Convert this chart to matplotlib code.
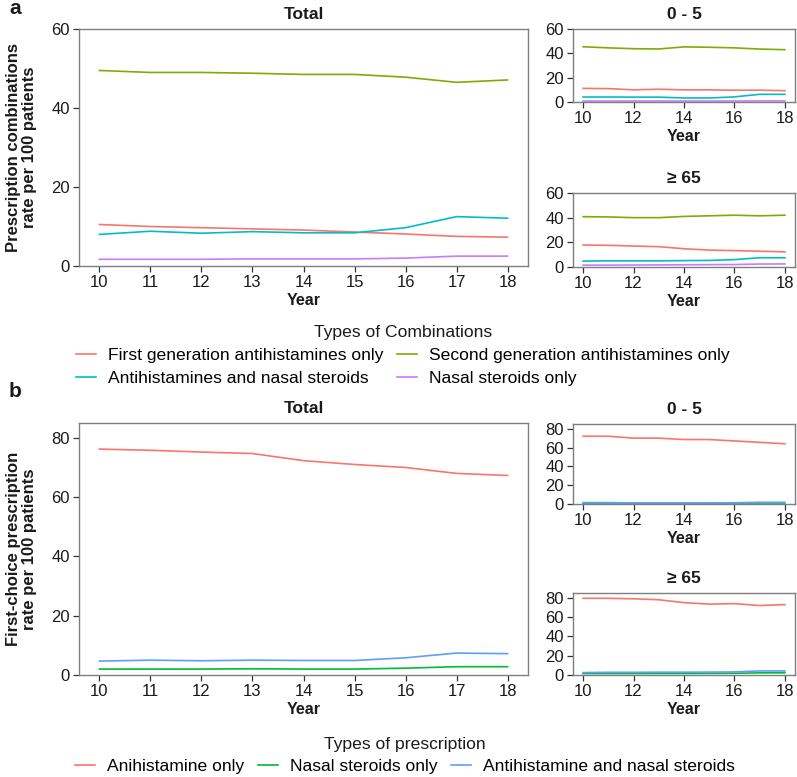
import matplotlib
matplotlib.use("Agg")
import matplotlib.pyplot as plt
from matplotlib.lines import Line2D

plt.rcParams['font.family'] = ['Liberation Sans', 'DejaVu Sans']

years = [10, 11, 12, 13, 14, 15, 16, 17, 18]

# Panel a: types of combinations
comb_labels = ["First generation antihistamines only", "Second generation antihistamines only",
               "Antihistamines and nasal steroids", "Nasal steroids only"]
comb_colors = ["#F8766D", "#7CAE00", "#00BFC4", "#C77CFF"]

a_total_first = [10.5, 10.0, 9.7, 9.4, 9.1, 8.6, 8.1, 7.5, 7.3]
a_total_second = [49.5, 49.0, 49.0, 48.8, 48.5, 48.5, 47.8, 46.5, 47.1]
a_total_both = [8.0, 8.8, 8.3, 8.7, 8.4, 8.4, 9.7, 12.5, 12.1]
a_total_nasal = [1.7, 1.7, 1.7, 1.8, 1.8, 1.8, 2.0, 2.5, 2.5]

a_05_first = [11.2, 11.0, 10.0, 10.5, 10.0, 10.0, 9.7, 9.7, 9.3]
a_05_second = [45.4, 44.5, 43.8, 43.6, 45.3, 45.0, 44.5, 43.5, 43.0]
a_05_both = [4.1, 4.1, 4.0, 4.0, 3.3, 3.3, 4.2, 6.3, 6.3]
a_05_nasal = [0.8, 0.8, 0.8, 0.8, 0.8, 0.8, 0.8, 0.9, 0.9]

a_65_first = [17.8, 17.6, 17.0, 16.5, 14.8, 13.7, 13.3, 12.8, 12.3]
a_65_second = [40.8, 40.6, 40.0, 40.0, 41.0, 41.5, 42.0, 41.5, 42.0]
a_65_both = [4.8, 5.0, 5.0, 5.0, 5.2, 5.3, 6.0, 7.5, 7.5]
a_65_nasal = [1.5, 1.5, 1.6, 1.7, 1.8, 1.9, 2.0, 2.4, 2.5]

# Panel b: types of prescription
presc_labels = ["Anihistamine only", "Nasal steroids only", "Antihistamine and nasal steroids"]
presc_colors = ["#F8766D", "#00BA38", "#619CFF"]

b_total_anti = [76.2, 75.8, 75.2, 74.7, 72.3, 71.0, 70.0, 68.0, 67.3]
b_total_nasal = [2.0, 2.0, 2.0, 2.1, 2.0, 2.0, 2.3, 2.8, 2.8]
b_total_both = [4.7, 5.0, 4.8, 5.0, 4.9, 4.9, 5.8, 7.4, 7.2]

b_05_anti = [72.0, 72.0, 70.0, 70.0, 68.5, 68.5, 67.0, 65.5, 64.0]
b_05_nasal = [0.3, 0.3, 0.3, 0.3, 0.3, 0.3, 0.3, 0.3, 0.3]
b_05_both = [1.5, 1.5, 1.2, 1.2, 1.2, 1.2, 1.3, 1.8, 1.8]

b_65_anti = [79.5, 79.5, 79.0, 78.0, 75.0, 73.5, 74.0, 72.0, 73.0]
b_65_nasal = [1.5, 1.5, 1.5, 1.6, 1.6, 1.7, 1.8, 2.2, 2.3]
b_65_both = [2.5, 2.8, 2.8, 2.9, 2.9, 3.0, 3.2, 4.2, 4.2]

W, H = 797, 777
fig = plt.figure(figsize=(W / 100, H / 100), dpi=100)


def ax_px(l, t, r, b):
    return fig.add_axes([l / W, 1 - b / H, (r - l) / W, (b - t) / H])


SPINE = "#7f7f7f"
TXT = "#1a1a1a"


def style(ax, title, ylim, yticks, xticks, ylabel=None, tick_fs=12):
    ax.set_xlim(9.6, 18.4)
    ax.set_ylim(*ylim)
    ax.set_yticks(yticks)
    ax.set_xticks(xticks)
    ax.set_xticklabels([str(v) for v in xticks])
    for s in ax.spines.values():
        s.set_color(SPINE)
        s.set_linewidth(1.0)
    ax.tick_params(direction='out', length=4, width=0.9, color='#333333',
                   labelsize=tick_fs, labelcolor=TXT, pad=2.5)
    ax.set_title(title, fontsize=12.5, fontweight='bold', pad=7, color=TXT)
    ax.set_xlabel("Year", fontsize=11.5, fontweight='bold', labelpad=2, color=TXT)
    if ylabel:
        ax.set_ylabel(ylabel, fontsize=12, fontweight='bold', labelpad=10, color=TXT,
                      linespacing=1.1)


LW = 1.2

# ---------- Panel a ----------
ax = ax_px(79, 29, 528, 266)
for ys, c in zip([a_total_first, a_total_second, a_total_both, a_total_nasal], comb_colors):
    ax.plot(years, ys, color=c, lw=LW)
style(ax, "Total", (0, 60), [0, 20, 40, 60], years,
      ylabel="Prescription combinations\nrate per 100 patients")

ax = ax_px(573, 29, 795, 102)
for ys, c in zip([a_05_first, a_05_second, a_05_both, a_05_nasal], comb_colors):
    ax.plot(years, ys, color=c, lw=LW)
style(ax, "0 - 5", (0, 60), [0, 20, 40, 60], [10, 12, 14, 16, 18])

ax = ax_px(573, 193, 795, 267)
for ys, c in zip([a_65_first, a_65_second, a_65_both, a_65_nasal], comb_colors):
    ax.plot(years, ys, color=c, lw=LW)
style(ax, "≥ 65", (0, 60), [0, 20, 40, 60], [10, 12, 14, 16, 18])

# ---------- Panel b ----------
ax = ax_px(79, 423, 528, 675)
for ys, c in zip([b_total_anti, b_total_nasal, b_total_both], presc_colors):
    ax.plot(years, ys, color=c, lw=LW)
style(ax, "Total", (0, 85), [0, 20, 40, 60, 80], years,
      ylabel="First-choice prescription\nrate per 100 patients")

ax = ax_px(573, 424, 795, 504)
for ys, c in zip([b_05_anti, b_05_nasal, b_05_both], presc_colors):
    ax.plot(years, ys, color=c, lw=LW)
style(ax, "0 - 5", (0, 85), [0, 20, 40, 60, 80], [10, 12, 14, 16, 18])

ax = ax_px(573, 593, 795, 675)
for ys, c in zip([b_65_anti, b_65_nasal, b_65_both], presc_colors):
    ax.plot(years, ys, color=c, lw=LW)
style(ax, "≥ 65", (0, 85), [0, 20, 40, 60, 80], [10, 12, 14, 16, 18])

# ---------- Legends ----------
ha = [Line2D([], [], color=c, lw=LW) for c in comb_colors]
order = [0, 2, 1, 3]
leg = fig.legend([ha[i] for i in order], [comb_labels[i] for i in order],
                 loc='upper center', bbox_to_anchor=(403 / W, 1 - 318 / H),
                 ncol=2, frameon=False, fontsize=12.6, title="Types of Combinations",
                 title_fontsize=12.6, handlelength=1.15, handletextpad=0.7,
                 columnspacing=0.75, labelspacing=0.45, borderaxespad=0)
leg.get_title().set_color(TXT)

hb = [Line2D([], [], color=c, lw=LW) for c in presc_colors]
leg2 = fig.legend(hb, presc_labels, loc='upper center', bbox_to_anchor=(405 / W, 1 - 730 / H),
                  ncol=3, frameon=False, fontsize=12.6, title="Types of prescription",
                  title_fontsize=12.6, handlelength=1.15, handletextpad=0.7,
                  columnspacing=0.75, labelspacing=0.4, borderaxespad=0)
leg2.get_title().set_color(TXT)

fig.text(9 / W, 1 - 8 / H, "a", fontsize=15, fontweight='bold', va='center', ha='left', color=TXT)
fig.text(9 / W, 1 - 392 / H, "b", fontsize=15, fontweight='bold', va='center', ha='left', color=TXT)

fig.savefig("out.png", dpi=100)
